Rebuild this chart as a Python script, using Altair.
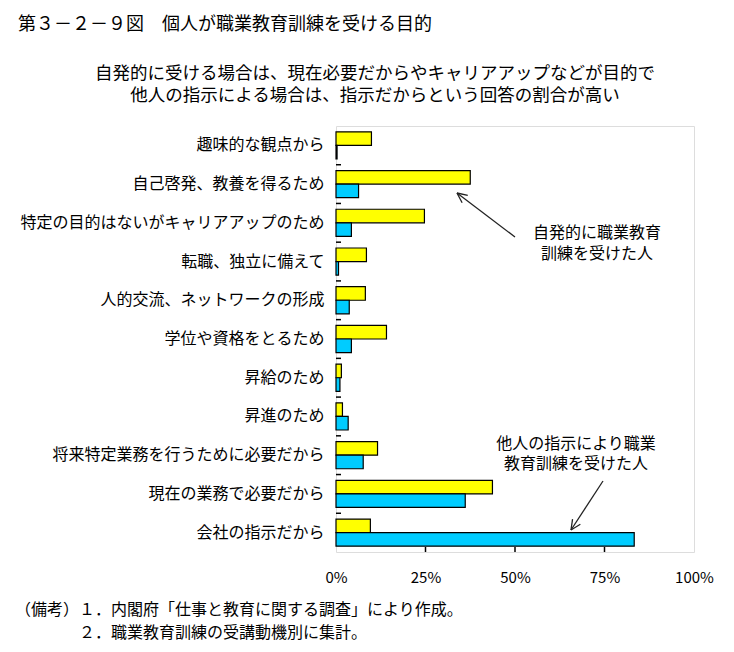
import altair as alt
import pandas as pd
import math

FONT = "Noto Sans CJK JP"

categories = [
    "趣味的な観点から",
    "自己啓発、教養を得るため",
    "特定の目的はないがキャリアアップのため",
    "転職、独立に備えて",
    "人的交流、ネットワークの形成",
    "学位や資格をとるため",
    "昇給のため",
    "昇進のため",
    "将来特定業務を行うために必要だから",
    "現在の業務で必要だから",
    "会社の指示だから",
]
series_names = ["自発的に職業教育訓練を受けた人", "他人の指示により職業教育訓練を受けた人"]
voluntary = [9.9, 37.5, 24.7, 8.5, 8.2, 14.1, 1.5, 1.8, 11.6, 43.7, 9.6]
instructed = [0.3, 6.3, 4.3, 0.7, 3.7, 4.3, 1.1, 3.4, 7.6, 36.1, 83.3]
x_ticks = [0, 25, 50, 75, 100]
colors = ["#FFFF00", "#00CCFF"]

rows = []
for c, v, w in zip(categories, voluntary, instructed):
    rows.append({"cat": c, "series": series_names[0], "value": v})
    rows.append({"cat": c, "series": series_names[1], "value": w})
df = pd.DataFrame(rows)

W, H = 358, 426

xscale = alt.Scale(domain=[0, 100], nice=False, zero=True)

bars = alt.Chart(df).mark_bar(stroke="black", strokeWidth=1.2, opacity=1).encode(
    x=alt.X("value:Q", scale=xscale,
            axis=alt.Axis(values=x_ticks, labelExpr="datum.value + '%'", title=None,
                          ticks=False, domain=False, grid=False, labelPadding=18,
                          labelFlush=False, labelBound=False, labelOverlap=False,
                          labelFontSize=15, labelFont=FONT, labelColor="black")),
    y=alt.Y("cat:N", sort=categories,
            scale=alt.Scale(paddingInner=0.3, paddingOuter=0.15),
            axis=alt.Axis(title=None, ticks=False, domain=False, labelPadding=12,
                          labelFontSize=16, labelFont=FONT, labelColor="black",
                          labelLimit=400)),
    yOffset=alt.YOffset("series:N", sort=series_names),
    color=alt.Color("series:N", sort=series_names,
                    scale=alt.Scale(domain=series_names, range=colors), legend=None),
)

# inward x ticks at bottom
xt = alt.Chart(pd.DataFrame({"v": x_ticks[1:-1]})).mark_rule(color="black", strokeWidth=1.5).encode(
    x=alt.X("v:Q", scale=xscale),
    y=alt.value(H), y2=alt.value(H - 5),
)

# inward y ticks at category boundaries
yt = alt.Chart(pd.DataFrame({"b": list(range(1, len(categories)))})).mark_rule(
    color="black", strokeWidth=1.5).encode(
    y=alt.Y("b:Q", scale=alt.Scale(domain=[0, len(categories)], nice=False), axis=None),
    x=alt.value(0), x2=alt.value(5),
)

one = pd.DataFrame({"k": [0]})


def text(t, x, y, size, align="left"):
    return alt.Chart(one).mark_text(
        text=t, font=FONT, fontSize=size, align=align, baseline="middle", color="black"
    ).encode(x=alt.value(x), y=alt.value(y))


def seg(x1, y1, x2, y2):
    return alt.Chart(one).mark_rule(color="#222222", strokeWidth=1.3).encode(
        x=alt.value(x1), y=alt.value(y1), x2=alt.value(x2), y2=alt.value(y2))


def arrow(x1, y1, x2, y2, L=11, ang=25):
    a = math.atan2(y1 - y2, x1 - x2)
    out = [seg(x1, y1, x2, y2)]
    for s in (1, -1):
        b = a + s * math.radians(ang)
        out.append(seg(x2, y2, x2 + L * math.cos(b), y2 + L * math.sin(b)))
    return out


layers = [bars, xt, yt]
layers.append(text("第３－２－９図　個人が職業教育訓練を受ける目的", -318, -101, 18))
layers.append(text("自発的に受ける場合は、現在必要だからやキャリアアップなどが目的で", 39, -52, 17.5, "center"))
layers.append(text("他人の指示による場合は、指示だからという回答の割合が高い", 39, -30, 17.5, "center"))
layers.append(text("自発的に職業教育", 261, 107, 16, "center"))
layers.append(text("訓練を受けた人", 261, 128, 16, "center"))
layers.append(text("他人の指示により職業", 240, 318, 16, "center"))
layers.append(text("教育訓練を受けた人", 240, 338, 16, "center"))
layers.append(text("（備考）１．内閣府「仕事と教育に関する調査」により作成。", -321, 484, 16))
layers.append(text("２．職業教育訓練の受講動機別に集計。", -257, 507, 16))
layers += arrow(179, 111, 121, 67)
layers += arrow(267, 355, 235, 404)

chart = alt.layer(*layers).resolve_scale(y="independent").properties(
    width=W, height=H,
    autosize=alt.AutoSizeParams(type="none"),
    padding={"left": 328, "top": 118, "right": 30, "bottom": 90},
).configure_view(stroke="black", strokeWidth=2).configure(background="white")

chart.save("out.html", embed_options={"renderer": "svg", "actions": False})
